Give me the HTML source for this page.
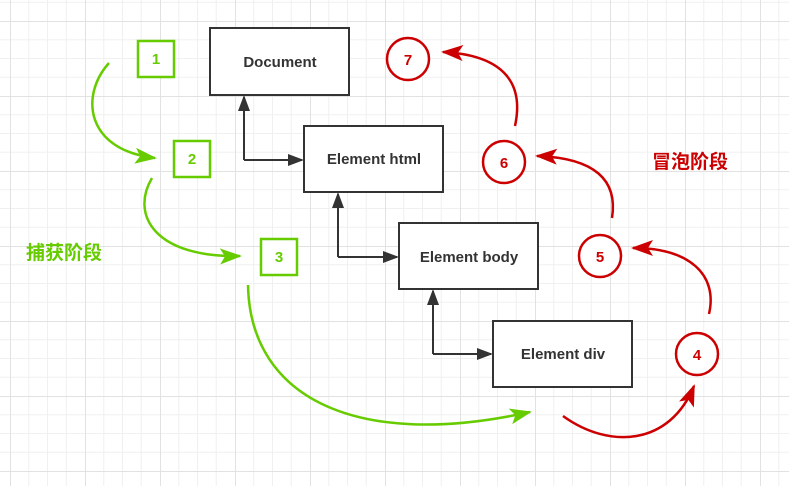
<!DOCTYPE html>
<html><head><meta charset="utf-8"><style>
html,body{margin:0;padding:0;background:#fff}
svg{display:block}
text{font-family:"Liberation Sans","Noto Sans CJK SC",sans-serif;font-weight:bold}
</style></head><body>
<svg width="789" height="486" viewBox="0 0 789 486" xmlns="http://www.w3.org/2000/svg">
<defs>
<pattern id="g" x="10" y="21" width="75" height="75" patternUnits="userSpaceOnUse">
<path d="M18.75 0V75M37.5 0V75M56.25 0V75M0 18.75H75M0 37.5H75M0 56.25H75" stroke="#f0f0f0" stroke-width="1" fill="none"/>
<path d="M0.5 0V75M0 0.5H75" stroke="#e2e2e2" stroke-width="1" fill="none"/>
</pattern>
<marker id="ab" markerWidth="16" markerHeight="12" refX="14" refY="6" orient="auto" markerUnits="userSpaceOnUse"><path d="M0 0L16 6L0 12z" fill="#333"/></marker>
<marker id="ag" markerWidth="22" markerHeight="16" refX="20" refY="8" orient="auto" markerUnits="userSpaceOnUse"><path d="M0 0L22 8L0 16L5 8z" fill="#66cc00"/></marker>
<marker id="ar" markerWidth="22" markerHeight="16" refX="20" refY="8" orient="auto" markerUnits="userSpaceOnUse"><path d="M0 0L22 8L0 16L5 8z" fill="#cc0000"/></marker>
</defs>
<rect width="789" height="486" fill="url(#g)"/>
<g fill="#fff" stroke="#333" stroke-width="2">
<rect x="210" y="28" width="139" height="67"/>
<rect x="304" y="126" width="139" height="66"/>
<rect x="399" y="223" width="139" height="66"/>
<rect x="493" y="321" width="139" height="66"/>
</g>
<g font-size="15" fill="#333" text-anchor="middle">
<text x="280" y="67">Document</text>
<text x="374" y="164">Element html</text>
<text x="469" y="262">Element body</text>
<text x="563" y="359">Element div</text>
</g>
<g stroke="#333" stroke-width="2" fill="none">
<path d="M244 160V97" marker-end="url(#ab)"/><path d="M244 160H302" marker-end="url(#ab)"/>
<path d="M338 257V194" marker-end="url(#ab)"/><path d="M338 257H397" marker-end="url(#ab)"/>
<path d="M433 354V291" marker-end="url(#ab)"/><path d="M433 354H491" marker-end="url(#ab)"/>
</g>
<g fill="#fff" stroke="#66cc00" stroke-width="2.5">
<rect x="138" y="41" width="36" height="36"/>
<rect x="174" y="141" width="36" height="36"/>
<rect x="261" y="239" width="36" height="36"/>
</g>
<g font-size="15" fill="#66cc00" text-anchor="middle">
<text x="156" y="64">1</text><text x="192" y="164">2</text><text x="279" y="262">3</text>
</g>
<g stroke="#66cc00" stroke-width="2.5" fill="none">
<path d="M109 63C80 95 85 150 155 158" marker-end="url(#ag)"/>
<path d="M152 178C130 215 155 258 240 256" marker-end="url(#ag)"/>
<path d="M248 285C250 400 360 450 530 412" marker-end="url(#ag)"/>
</g>
<g fill="#fff" stroke="#cc0000" stroke-width="2.5">
<circle cx="408" cy="59" r="21"/><circle cx="504" cy="162" r="21"/>
<circle cx="600" cy="256" r="21"/><circle cx="697" cy="354" r="21"/>
</g>
<g font-size="15" fill="#cc0000" text-anchor="middle">
<text x="408" y="65">7</text><text x="504" y="168">6</text><text x="600" y="262">5</text><text x="697" y="360">4</text>
</g>
<g stroke="#cc0000" stroke-width="2.5" fill="none">
<path d="M515 126C525 80 500 55 443 52" marker-end="url(#ar)"/>
<path d="M612 218C618 180 595 158 537 156" marker-end="url(#ar)"/>
<path d="M709 314C718 275 690 248 633 248" marker-end="url(#ar)"/>
<path d="M563 416C610 450 670 445 694 386" marker-end="url(#ar)"/>
</g>
<text x="26" y="259" font-size="19" fill="#66cc00">捕获阶段</text>
<text x="652" y="168" font-size="19" fill="#cc0000">冒泡阶段</text>
</svg>
</body></html>
